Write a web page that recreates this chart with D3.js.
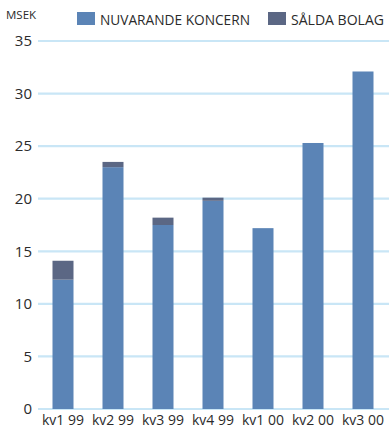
<!DOCTYPE html>
<html>
<head>
<meta charset="utf-8">
<script src="https://d3js.org/d3.v7.min.js"></script>
<style>
  body { margin: 0; background: #fff; }
  text { font-family: "Open Sans", sans-serif; fill: #2b2b2b; }
</style>
</head>
<body>
<div id="chart"></div>
<script>
// chart data
const quarters = ["kv1 99", "kv2 99", "kv3 99", "kv4 99", "kv1 00", "kv2 00", "kv3 00"];
const nuvarande = [12.3, 23.0, 17.5, 19.8, 17.2, 25.3, 32.1];
const salda = [1.8, 0.5, 0.7, 0.3, 0, 0, 0];
const yTicks = [0, 5, 10, 15, 20, 25, 30, 35];
const seriesNames = ["NUVARANDE KONCERN", "SÅLDA BOLAG"];
const colors = ["#5b84b6", "#5b6784"];

const width = 389, height = 432;

const svg = d3.select("#chart").append("svg")
  .attr("width", width).attr("height", height);

const rows = quarters.map((q, i) => ({ q: q, nuv: nuvarande[i], sal: salda[i] }));
const stack = d3.stack().keys(["nuv", "sal"])(rows);

const x = d3.scaleBand()
  .domain(quarters)
  .range([38, 388])
  .paddingInner(0.58)
  .paddingOuter(0.29);

const y = d3.scaleLinear()
  .domain([0, 35])
  .range([409, 41]);

// grid lines
svg.append("g")
  .selectAll("line")
  .data(yTicks)
  .join("line")
  .attr("x1", 38).attr("x2", width)
  .attr("y1", d => y(d)).attr("y2", d => y(d))
  .attr("stroke", "#c9e6f6")
  .attr("stroke-width", 2.2);

// y axis labels
const yAxis = svg.append("g")
  .attr("transform", "translate(32,0)")
  .call(d3.axisLeft(y).tickValues(yTicks).tickSize(0).tickPadding(0));
yAxis.select(".domain").remove();
yAxis.selectAll("text")
  .style("font-family", "'Open Sans', sans-serif")
  .style("font-size", "15px")
  .attr("fill", "#2b2b2b");

// bars
svg.append("g")
  .selectAll("g")
  .data(stack)
  .join("g")
  .attr("fill", (d, i) => colors[i])
  .selectAll("rect")
  .data(d => d)
  .join("rect")
  .attr("x", d => x(d.data.q))
  .attr("width", x.bandwidth())
  .attr("y", d => y(d[1]))
  .attr("height", d => y(d[0]) - y(d[1]));

// x axis labels
const xAxis = svg.append("g")
  .attr("transform", "translate(0,411)")
  .call(d3.axisBottom(x).tickSize(0).tickPadding(4));
xAxis.select(".domain").remove();
xAxis.selectAll("text")
  .style("font-family", "'Open Sans', sans-serif")
  .style("font-size", "14px")
  .attr("fill", "#2b2b2b");

// unit label
svg.append("text")
  .attr("x", 6).attr("y", 19)
  .style("font-size", "11.5px")
  .text("MSEK");

// legend
const legendX = [77, 268];
const legendW = [150, 93];
const legend = svg.append("g")
  .selectAll("g")
  .data(seriesNames)
  .join("g")
  .attr("transform", (d, i) => `translate(${legendX[i]},12)`);
legend.append("rect")
  .attr("width", 18).attr("height", 13)
  .attr("fill", (d, i) => colors[i]);
legend.append("text")
  .attr("x", 23).attr("y", 12.5)
  .style("font-size", "14px")
  .attr("textLength", (d, i) => legendW[i])
  .attr("lengthAdjust", "spacingAndGlyphs")
  .text(d => d);
</script>
</body>
</html>
